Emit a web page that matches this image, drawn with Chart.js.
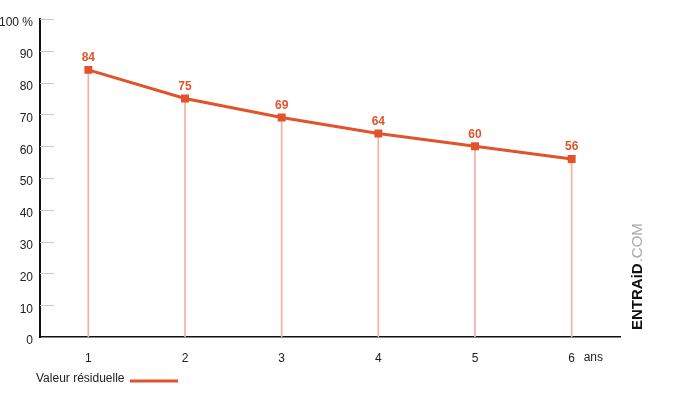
<!DOCTYPE html>
<html>
<head>
<meta charset="utf-8">
<script src="https://cdn.jsdelivr.net/npm/chart.js@4"></script>
<style>
  html, body { margin: 0; padding: 0; background: #fff; }
  #wrap { width: 700px; height: 397px; position: relative; }
</style>
</head>
<body>
<div id="wrap"><canvas id="residualChart"></canvas></div>
<script>
// chart data
const years = ['1', '2', '3', '4', '5', '6'];
const residualValues = [84, 75, 69, 64, 60, 56];
const yTicks = [0, 10, 20, 30, 40, 50, 60, 70, 80, 90, 100];
const seriesLabel = 'Valeur résiduelle';
const unitLabel = 'ans';

const lineColor = '#e2532b';
const dropColor = '#f4b0a3';
const fontFamily = '"Liberation Sans", Arial, sans-serif';

// short inner tick marks on the y axis, data labels, legend, "ans" and watermark
const extrasPlugin = {
  id: 'extras',
  beforeDatasetsDraw(chart) {
    const ctx = chart.ctx;
    const y = chart.scales.y;
    ctx.save();
    ctx.strokeStyle = '#c8c8c8';
    ctx.lineWidth = 1;
    yTicks.forEach(v => {
      if (v === 0) return;
      const py = Math.round(y.getPixelForValue(v)) + 0.5;
      ctx.beginPath();
      ctx.moveTo(y.right, py);
      ctx.lineTo(y.right + 14, py);
      ctx.stroke();
    });
    ctx.restore();
  },
  afterDatasetsDraw(chart) {
    const ctx = chart.ctx;
    const meta = chart.getDatasetMeta(0);
    ctx.save();
    ctx.fillStyle = lineColor;
    ctx.font = 'bold 12px ' + fontFamily;
    ctx.textAlign = 'center';
    ctx.textBaseline = 'middle';
    meta.data.forEach((pt, i) => {
      ctx.fillText(String(residualValues[i]), pt.x, pt.y - 12);
    });

    // unit after the last x label
    const x = chart.scales.x;
    ctx.fillStyle = '#222';
    ctx.font = '12px ' + fontFamily;
    ctx.textAlign = 'left';
    ctx.fillText(unitLabel, x.getPixelForValue(years.length - 1) + 12, 358);

    // legend
    ctx.fillText(seriesLabel, 36, 379);
    ctx.strokeStyle = lineColor;
    ctx.lineWidth = 3;
    ctx.beginPath();
    ctx.moveTo(130, 381);
    ctx.lineTo(178, 381);
    ctx.stroke();

    // watermark
    ctx.translate(638, 330);
    ctx.rotate(-Math.PI / 2);
    ctx.textAlign = 'left';
    ctx.textBaseline = 'middle';
    ctx.font = 'bold 15px ' + fontFamily;
    ctx.fillStyle = '#111';
    ctx.fillText('ENTRAiD', 0, 0);
    const w = ctx.measureText('ENTRAiD').width;
    ctx.font = '15px ' + fontFamily;
    ctx.fillStyle = '#aaa';
    ctx.fillText('.COM', w + 1, 0);
    ctx.restore();
  }
};

const ctx = document.getElementById('residualChart').getContext('2d');
new Chart(ctx, {
  data: {
    labels: years,
    datasets: [
      {
        type: 'line',
        label: seriesLabel,
        data: residualValues,
        borderColor: lineColor,
        backgroundColor: lineColor,
        borderWidth: 3,
        pointStyle: 'rect',
        pointRadius: 3.5,
        pointHoverRadius: 3.5,
        tension: 0,
        order: 0
      },
      {
        type: 'bar',
        label: 'drop',
        data: residualValues,
        backgroundColor: dropColor,
        barThickness: 1,
        order: 1
      }
    ]
  },
  options: {
    responsive: true,
    maintainAspectRatio: false,
    animation: false,
    layout: { padding: { top: 19, left: 0, right: 80, bottom: 30 } },
    plugins: {
      legend: { display: false },
      tooltip: { enabled: false }
    },
    scales: {
      x: {
        type: 'category',
        offset: true,
        grid: { display: false, drawTicks: false },
        border: { color: '#111', width: 1.5 },
        ticks: {
          color: '#222',
          padding: 14,
          font: { family: fontFamily, size: 12 }
        },
        afterFit(scale) { scale.height = 30; }
      },
      y: {
        min: 0,
        max: 100,
        grid: { display: false, drawTicks: false },
        border: { color: '#111', width: 2 },
        afterBuildTicks(scale) { scale.ticks = yTicks.map(v => ({ value: v })); },
        ticks: {
          color: '#222',
          padding: 7,
          labelOffset: 4,
          font: { family: fontFamily, size: 12 },
          callback: v => v === 100 ? '100 %' : String(v)
        },
        afterFit(scale) { scale.width = 40; }
      }
    }
  },
  plugins: [extrasPlugin]
});
</script>
</body>
</html>
